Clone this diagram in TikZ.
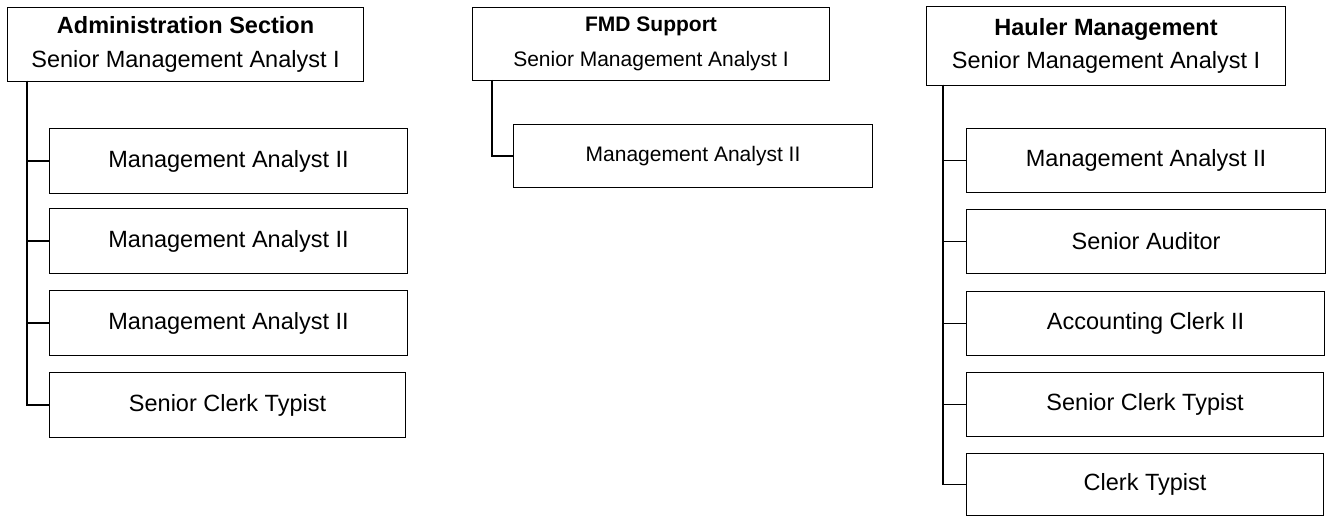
\documentclass[tikz,border=0pt]{standalone}
\usepackage{fontspec}
\setmainfont{Liberation Sans}
\begin{document}
\begin{tikzpicture}[x=1pt,y=-1pt,
  hdr/.style={draw, line width=1.1pt, align=center, inner sep=0pt, anchor=north west},
  rolebox/.style={draw, line width=1.1pt, inner sep=0pt, anchor=north west},
  big/.style={font=\fontsize{23.5}{34}\selectfont},
  small/.style={font=\fontsize{21}{35}\selectfont},
  conn/.style={line width=1.1pt}]
\useasboundingbox[fill=white] (0,0) rectangle (1328,518);

% Left column
\node[hdr, big, minimum width=356pt, minimum height=74pt] (hA) at (7,7)
  {\textbf{Administration Section}\\Senior Management Analyst I};
\coordinate (sA) at (27,81);
\node[rolebox, big, minimum width=358pt, minimum height=65pt] (a1) at (49,128) {Management Analyst II};
\node[rolebox, big, minimum width=358pt, minimum height=65pt] (a2) at (49,208) {Management Analyst II};
\node[rolebox, big, minimum width=358pt, minimum height=65pt] (a3) at (49,290) {Management Analyst II};
\node[rolebox, big, minimum width=356pt, minimum height=65pt] (a4) at (49,372) {Senior Clerk Typist};
\foreach \c in {a1,a2,a3,a4} \draw[conn] (sA) |- (\c.west);

% Middle column
\node[hdr, small, minimum width=357pt, minimum height=73pt] (hB) at (472,7)
  {\textbf{FMD Support}\\Senior Management Analyst I};
\coordinate (sB) at (492,80);
\node[rolebox, small, minimum width=359pt, minimum height=63pt] (b1) at (513,124) {Management Analyst II};
\draw[conn] (sB) |- (b1.west);

% Right column
\node[hdr, font=\fontsize{23.5}{33}\selectfont, minimum width=359pt, minimum height=79pt] (hC) at (926,6)
  {\textbf{Hauler Management}\\Senior Management Analyst I};
\coordinate (sC) at (943,85);
\node[rolebox, big, minimum width=359pt, minimum height=64pt] (c1) at (966,128) {Management Analyst II};
\node[rolebox, big, minimum width=359pt, minimum height=64pt] (c2) at (966,209) {Senior Auditor};
\node[rolebox, big, minimum width=358pt, minimum height=64pt] (c3) at (966,291) {Accounting Clerk II};
\node[rolebox, big, minimum width=357pt, minimum height=64pt] (c4) at (966,372) {Senior Clerk Typist};
\node[rolebox, big, minimum width=357pt, minimum height=62pt] (c5) at (966,453) {Clerk Typist};
\foreach \c in {c1,c2,c3,c4,c5} \draw[conn] (sC) |- (\c.west);
\end{tikzpicture}
\end{document}
